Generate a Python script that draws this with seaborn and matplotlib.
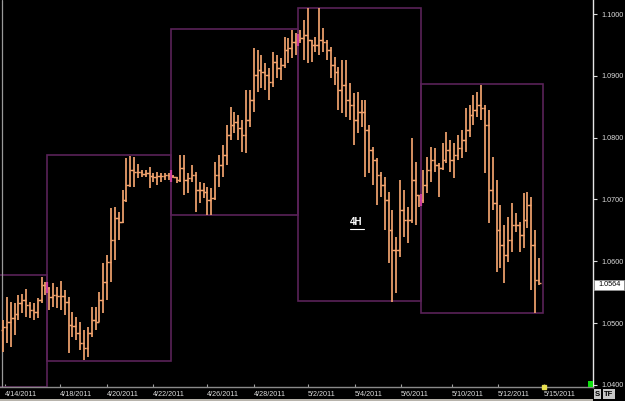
import matplotlib
matplotlib.use("Agg")
import matplotlib.pyplot as plt
import seaborn as sns
import pandas as pd
from matplotlib.patches import Rectangle

# ---------------- data (EUR/USD-like 4H bars) ----------------
highs = [1.0505, 1.0542, 1.0534, 1.0532, 1.0545, 1.0547, 1.0555, 1.0534, 1.0532, 1.0541,
         1.0575, 1.0566, 1.0558, 1.0565, 1.0558, 1.0568, 1.0553, 1.0542, 1.0518, 1.0510,
         1.0502, 1.0489, 1.0494, 1.0526, 1.0526, 1.0550, 1.0597, 1.0610, 1.0686, 1.0688,
         1.0680, 1.0715, 1.0767, 1.0770, 1.0769, 1.0757, 1.0748, 1.0748, 1.0752, 1.0743,
         1.0744, 1.0743, 1.0743, 1.0743, 1.0740, 1.0736, 1.0772, 1.0772, 1.0743, 1.0756,
         1.0744, 1.0728, 1.0727, 1.0720, 1.0719, 1.0761, 1.0772, 1.0788, 1.0820, 1.0850,
         1.0841, 1.0837, 1.0829, 1.0877, 1.0877, 1.0945, 1.0942, 1.0934, 1.0921, 1.0913,
         1.0939, 1.0934, 1.0929, 1.0963, 1.0961, 1.0974, 1.0969, 1.0974, 1.0990, 1.1010,
         1.0958, 1.0963, 1.1010, 1.0977, 1.0958, 1.0947, 1.0930, 1.0914, 1.0926, 1.0926,
         1.0888, 1.0872, 1.0874, 1.0861, 1.0861, 1.0820, 1.0785, 1.0767, 1.0744, 1.0736,
         1.0712, 1.0683, 1.0639, 1.0731, 1.0715, 1.0688, 1.0799, 1.0761, 1.0707, 1.0748,
         1.0769, 1.0785, 1.0783, 1.0759, 1.0791, 1.0809, 1.0796, 1.0791, 1.0804, 1.0812,
         1.0848, 1.0853, 1.0869, 1.0874, 1.0885, 1.0853, 1.0845, 1.0769, 1.0731, 1.0691,
         1.0659, 1.0672, 1.0694, 1.0678, 1.0663, 1.0710, 1.0712, 1.0704, 1.0651, 1.0605]

lows = [1.0453, 1.0468, 1.0461, 1.0481, 1.0505, 1.0516, 1.0510, 1.0508, 1.0505, 1.0508,
        1.0532, 1.0545, 1.0521, 1.0526, 1.0524, 1.0521, 1.0513, 1.0451, 1.0477, 1.0473,
        1.0456, 1.0440, 1.0445, 1.0477, 1.0489, 1.0502, 1.0516, 1.0537, 1.0566, 1.0602,
        1.0634, 1.0662, 1.0696, 1.0720, 1.0720, 1.0735, 1.0736, 1.0736, 1.0719, 1.0728,
        1.0723, 1.0728, 1.0731, 1.0731, 1.0735, 1.0727, 1.0728, 1.0707, 1.0710, 1.0728,
        1.0680, 1.0694, 1.0702, 1.0675, 1.0675, 1.0699, 1.0720, 1.0736, 1.0756, 1.0796,
        1.0808, 1.0796, 1.0777, 1.0775, 1.0817, 1.0841, 1.0874, 1.0880, 1.0877, 1.0861,
        1.0882, 1.0896, 1.0893, 1.0913, 1.0921, 1.0929, 1.0934, 1.0953, 1.0926, 1.0921,
        1.0922, 1.0939, 1.0934, 1.0939, 1.0926, 1.0896, 1.0885, 1.0845, 1.0840, 1.0833,
        1.0829, 1.0788, 1.0808, 1.0817, 1.0736, 1.0743, 1.0723, 1.0691, 1.0704, 1.0651,
        1.0597, 1.0534, 1.0549, 1.0607, 1.0639, 1.0630, 1.0662, 1.0659, 1.0688, 1.0694,
        1.0710, 1.0728, 1.0744, 1.0704, 1.0748, 1.0759, 1.0744, 1.0735, 1.0764, 1.0767,
        1.0777, 1.0801, 1.0820, 1.0833, 1.0829, 1.0743, 1.0662, 1.0683, 1.0583, 1.0589,
        1.0565, 1.0599, 1.0615, 1.0647, 1.0615, 1.0621, 1.0654, 1.0553, 1.0516, 1.0562]

opens = [1.0489, 1.0494, 1.0502, 1.0508, 1.0515, 1.0532, 1.0537, 1.0529, 1.0521, 1.0518,
         1.0537, 1.0562, 1.0557, 1.0542, 1.0545, 1.0544, 1.0544, 1.0534, 1.0497, 1.0495,
         1.0484, 1.0468, 1.0460, 1.0484, 1.0505, 1.0502, 1.0537, 1.0566, 1.0599, 1.0634,
         1.0670, 1.0663, 1.0699, 1.0723, 1.0748, 1.0744, 1.0744, 1.0741, 1.0743, 1.0738,
         1.0736, 1.0738, 1.0738, 1.0740, 1.0738, 1.0736, 1.0731, 1.0751, 1.0731, 1.0735,
         1.0740, 1.0715, 1.0715, 1.0712, 1.0699, 1.0702, 1.0740, 1.0756, 1.0772, 1.0804,
         1.0820, 1.0825, 1.0816, 1.0804, 1.0829, 1.0861, 1.0901, 1.0909, 1.0906, 1.0901,
         1.0890, 1.0922, 1.0913, 1.0918, 1.0942, 1.0945, 1.0955, 1.0958, 1.0961, 1.0966,
         1.0958, 1.0950, 1.0950, 1.0958, 1.0955, 1.0942, 1.0918, 1.0906, 1.0877, 1.0885,
         1.0861, 1.0853, 1.0829, 1.0841, 1.0841, 1.0812, 1.0780, 1.0764, 1.0740, 1.0723,
         1.0699, 1.0651, 1.0618, 1.0618, 1.0683, 1.0667, 1.0667, 1.0731, 1.0707, 1.0699,
         1.0723, 1.0748, 1.0764, 1.0756, 1.0751, 1.0764, 1.0780, 1.0764, 1.0772, 1.0783,
         1.0796, 1.0812, 1.0837, 1.0845, 1.0853, 1.0848, 1.0820, 1.0715, 1.0694, 1.0651,
         1.0626, 1.0610, 1.0634, 1.0659, 1.0659, 1.0642, 1.0667, 1.0691, 1.0626, 1.0570]

closes = [1.0494, 1.0502, 1.0508, 1.0515, 1.0532, 1.0537, 1.0529, 1.0521, 1.0518, 1.0537,
          1.0562, 1.0557, 1.0542, 1.0545, 1.0544, 1.0544, 1.0534, 1.0497, 1.0495, 1.0484,
          1.0468, 1.0460, 1.0484, 1.0505, 1.0502, 1.0537, 1.0566, 1.0599, 1.0634, 1.0670,
          1.0663, 1.0699, 1.0723, 1.0748, 1.0744, 1.0744, 1.0741, 1.0743, 1.0738, 1.0736,
          1.0738, 1.0738, 1.0740, 1.0738, 1.0736, 1.0731, 1.0751, 1.0731, 1.0735, 1.0740,
          1.0715, 1.0715, 1.0712, 1.0699, 1.0702, 1.0740, 1.0756, 1.0772, 1.0804, 1.0820,
          1.0825, 1.0816, 1.0804, 1.0829, 1.0861, 1.0901, 1.0909, 1.0906, 1.0901, 1.0890,
          1.0922, 1.0913, 1.0918, 1.0942, 1.0945, 1.0955, 1.0958, 1.0961, 1.0966, 1.0958,
          1.0950, 1.0950, 1.0958, 1.0955, 1.0942, 1.0918, 1.0906, 1.0877, 1.0885, 1.0861,
          1.0853, 1.0829, 1.0841, 1.0841, 1.0812, 1.0780, 1.0764, 1.0740, 1.0723, 1.0699,
          1.0651, 1.0618, 1.0618, 1.0683, 1.0667, 1.0667, 1.0731, 1.0707, 1.0699, 1.0723,
          1.0748, 1.0764, 1.0756, 1.0751, 1.0764, 1.0780, 1.0764, 1.0772, 1.0783, 1.0796,
          1.0812, 1.0837, 1.0845, 1.0853, 1.0848, 1.0820, 1.0715, 1.0694, 1.0651, 1.0626,
          1.0610, 1.0634, 1.0659, 1.0659, 1.0642, 1.0667, 1.0691, 1.0626, 1.0570, 1.0564]

# weekly ranges (first bar of each week, high, low)
week_first_bar = [-4, 12, 44, 77, 109]
week_high = [1.0578, 1.0772, 1.0976, 1.1010, 1.0887]
week_low = [1.0396, 1.0439, 1.0675, 1.0536, 1.0516]

date_pos = [0.5, 14.8, 27.0, 38.9, 52.9, 65.1, 79.1, 91.3, 103.2, 116.4, 128.4, 140.3]
date_labels = ["4/14/2011", "4/18/2011", "4/20/2011", "4/22/2011", "4/26/2011", "4/28/2011",
               "5/2/2011", "5/4/2011", "5/6/2011", "5/10/2011", "5/12/2011", "5/15/2011"]
price_ticks = [1.0400, 1.0500, 1.0600, 1.0700, 1.0800, 1.0900, 1.1000]
last_price = 1.0564
timeframe = "4H"

# ---------------- style ----------------
sns.set_theme(style="dark", rc={"axes.facecolor": "black", "figure.facecolor": "black",
                                "axes.grid": False})
plt.rcParams["font.family"] = ["Liberation Sans", "DejaVu Sans"]

BAR = "#F2A36E"
BOX = "#5A2258"
PINK = "#C83C9E"
TXT = "#DCDCDC"

df = pd.DataFrame({"bar": range(len(highs)), "open": opens, "high": highs,
                   "low": lows, "close": closes})
n = len(df)

fig = plt.figure(figsize=(6.25, 4.01), dpi=100, facecolor="black")
ax = fig.add_axes([0.0, 14 / 401, 593 / 625, 387 / 401])
ax.set_facecolor("black")

# weekly range boxes
for k in range(len(week_first_bar)):
    left = week_first_bar[k] - 0.5
    right = (week_first_bar[k + 1] - 0.5) if k + 1 < len(week_first_bar) else n + 0.0
    ax.add_patch(Rectangle((left, week_low[k]), right - left, week_high[k] - week_low[k],
                           fill=False, edgecolor=BOX, lw=1.2, zorder=1))

# OHLC bars
x = df["bar"].to_numpy()
ax.vlines(x, df["low"], df["high"], color=BAR, lw=1.25, zorder=3)
ax.hlines(df["open"], x - 0.6, x, color=BAR, lw=1.0, zorder=3)
ax.hlines(df["close"], x, x + 0.6, color=BAR, lw=1.0, zorder=3)

# week-start markers
for k in range(1, len(week_first_bar)):
    b = week_first_bar[k]
    ax.vlines(b - 0.5, opens[b] - 0.0009, opens[b] + 0.0009, color=PINK, lw=1.6, zorder=4)

# left cursor line
ax.axvline(-0.25, color="#9A9A9A", lw=0.9, zorder=2)

ax.set_xlim(-0.78, 153.0)
ax.set_ylim(1.03965, 1.10227)

# y axis on right
ax.yaxis.tick_right()
ax.set_yticks(price_ticks)
ax.set_yticklabels([f"{p:.4f}" for p in price_ticks])
ax.tick_params(axis="y", colors=TXT, labelsize=5.2, length=3, width=0.8,
               direction="out", pad=3, right=True, left=False)

ax.set_xticks(date_pos)
ax.set_xticklabels(date_labels, ha="left")
ax.tick_params(axis="x", colors="#A0A0A0", labelcolor=TXT, labelsize=5.2, length=2,
               width=0.8, direction="in", pad=3, bottom=True)

for s in ["left", "top"]:
    ax.spines[s].set_visible(False)
ax.spines["right"].set_color("#E6E6E6")
ax.spines["right"].set_linewidth(1.0)
ax.spines["bottom"].set_color("#8A8A8A")
ax.spines["bottom"].set_linewidth(1.0)

# timeframe label
ax.text(91.5, 1.0663, timeframe, color="white", fontsize=7, fontweight="bold",
        ha="center", va="center", zorder=5)
fig.add_artist(plt.Line2D([350 / 625, 364 / 625], [(401 - 229) / 401] * 2,
                          color="white", lw=0.8, transform=fig.transFigure))

# last price box
fig.add_artist(Rectangle((594 / 625, (401 - 290) / 401), 30 / 625, 10 / 401,
                         transform=fig.transFigure, facecolor="white",
                         edgecolor="#909090", lw=0.6, zorder=5))
fig.text(609.5 / 625, (401 - 285) / 401, f"{last_price:.4f}",
         ha="center", va="center", fontsize=5.2, color="black", zorder=10)

# yellow marker on time axis
ax.plot([date_pos[-1]], [1.03965], marker="s", ms=2.5, color="#E8E050",
        clip_on=False, zorder=6)

# green square bottom-right
fig.add_artist(Rectangle((588 / 625, (401 - 387) / 401), 5 / 625, 6 / 401,
                         transform=fig.transFigure, facecolor="#10E010", edgecolor="none"))

# S / TF buttons
fig.text(597.5 / 625, (401 - 394) / 401, "S", fontsize=5.5, fontweight="bold", color="black",
         ha="center", va="center", zorder=10,
         bbox=dict(boxstyle="square,pad=0.15", facecolor="#C8C8C8", edgecolor="none"))
fig.text(609 / 625, (401 - 394) / 401, "TF", fontsize=5.5, fontweight="bold", color="black",
         ha="center", va="center", zorder=10,
         bbox=dict(boxstyle="square,pad=0.15", facecolor="#C8C8C8", edgecolor="none"))

# bottom scrollbar strip
fig.add_artist(Rectangle((0, 0), 593 / 625, 2.5 / 401, transform=fig.transFigure,
                         facecolor="#B8B4AC", edgecolor="none"))

fig.savefig("out.png", dpi=100, facecolor="black")
